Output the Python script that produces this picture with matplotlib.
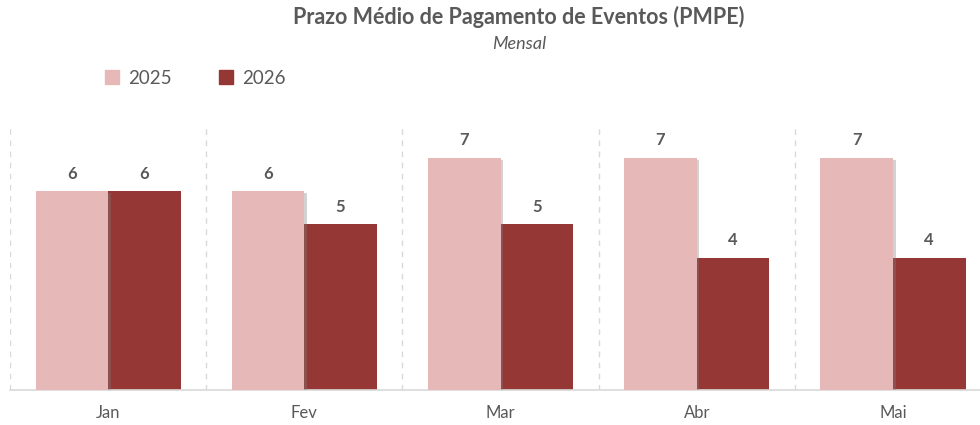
import matplotlib.pyplot as plt
import matplotlib.patheffects as pe
from matplotlib.patches import Patch
import numpy as np

meses = ['Jan', 'Fev', 'Mar', 'Abr', 'Mai']
v2025 = [6, 6, 7, 7, 7]
v2026 = [6, 5, 5, 4, 4]
series = ['2025', '2026']

cor25 = '#E6B8B7'
cor26 = '#953735'
txt = '#595959'

plt.rcParams['font.family'] = ['Lato', 'DejaVu Sans']

fig = plt.figure(figsize=(9.8, 4.25), dpi=100)
ax = fig.add_axes([10/980, 1-390/425, 970/980, 265/425])

x = np.arange(len(meses))
w = 0.37
shadow = [pe.SimplePatchShadow(offset=(2, -1), shadow_rgbFace='#808080', alpha=0.35), pe.Normal()]
b1 = ax.bar(x - w/2, v2025, w, color=cor25, zorder=3, path_effects=shadow)
b2 = ax.bar(x + w/2, v2026, w, color=cor26, zorder=2)

for bars in (b1, b2):
    for r in bars:
        h = r.get_height()
        ax.annotate('%d' % h, (r.get_x() + r.get_width()/2, h), xytext=(0, 7),
                    textcoords='offset points', ha='center', va='bottom',
                    fontsize=12, fontweight='bold', color=txt)

# separadores tracejados entre os meses
for s in np.arange(-0.5, len(meses) - 0.5, 1):
    ax.axvline(s, color='#D9D9D9', ls=(0, (4, 4)), lw=1, zorder=1)

ax.set_xlim(-0.5, 4.5 - 11/196)
ax.set_ylim(0, 8)
ax.set_xticks(x)
ax.set_xticklabels(meses, fontsize=12, color=txt)
ax.tick_params(axis='x', length=0, pad=11)
ax.set_yticks([])
for k in ('top', 'right', 'left'):
    ax.spines[k].set_visible(False)
ax.spines['bottom'].set_color('#D9D9D9')
ax.spines['bottom'].set_linewidth(1.2)

fig.text(519/980, 1-17/425, 'Prazo Médio de Pagamento de Eventos (PMPE)', ha='center', va='center',
         fontsize=15.5, fontweight='bold', color=txt)
fig.text(519/980, 1-44/425, 'Mensal', ha='center', va='center', fontsize=13,
         fontstyle='italic', color=txt)

handles = [Patch(color=cor25), Patch(color=cor26)]
fig.legend(handles=handles, labels=series, loc='center left', bbox_to_anchor=(88/980, 1-78/425),
           ncol=2, frameon=False, fontsize=13.5, labelcolor=txt, handlelength=0.75, handleheight=0.75,
           handletextpad=0.5, columnspacing=2.5)

plt.savefig('out.png', format='png')
